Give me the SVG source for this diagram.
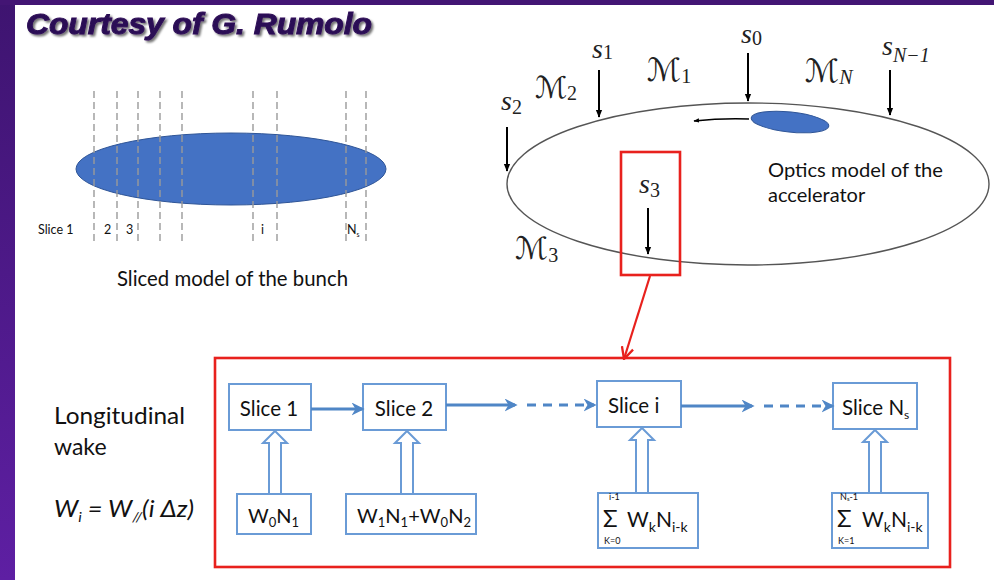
<svg xmlns="http://www.w3.org/2000/svg" width="994" height="580" viewBox="0 0 994 580">
<defs>
<linearGradient id="purp" x1="0" y1="0" x2="0" y2="1">
<stop offset="0" stop-color="#3e1470"/>
<stop offset="1" stop-color="#5e1fa3"/>
</linearGradient>
<filter id="shadow" x="-5%" y="-30%" width="110%" height="160%">
<feDropShadow dx="2" dy="2" stdDeviation="1.2" flood-color="#000" flood-opacity="0.55"/>
</filter>
<marker id="blk" viewBox="0 0 10 10" refX="9" refY="5" markerWidth="4" markerHeight="4" orient="auto">
<path d="M0,1 L10,5 L0,9 z" fill="#000"/>
</marker>
<marker id="blue" viewBox="0 0 10 10" refX="8" refY="5" markerWidth="13" markerHeight="13" orient="auto" markerUnits="userSpaceOnUse">
<path d="M0,0 L10,5 L0,10 L3,5 z" fill="#4f86c6"/>
</marker>
<marker id="red" viewBox="0 0 12 12" refX="11" refY="6" markerWidth="14" markerHeight="14" orient="auto" markerUnits="userSpaceOnUse">
<path d="M1,1 L11,6 L1,11" fill="none" stroke="#e8211d" stroke-width="2"/>
</marker>
</defs>
<style>
.lbl{font-family:Lato,"Open Sans","Liberation Sans",sans-serif;fill:#111}
.math{font-family:"Liberation Serif","DejaVu Serif",serif;fill:#222}
.cal{font-family:"DejaVu Serif","DejaVu Sans",serif;fill:#222}
.dash{stroke:#9a9a9a;stroke-width:1.4;stroke-dasharray:7,4}
.bx{fill:#fff;stroke:#6a9bd6;stroke-width:2}
.harrow{fill:#fff;stroke:#6a9bd6;stroke-width:2}
.flow{stroke:#4f86c6;stroke-width:3;fill:none}
.flowd{stroke:#4f86c6;stroke-width:3;fill:none;stroke-dasharray:9,7}
.bk{stroke:#000;stroke-width:2;fill:none}
.redb{fill:none;stroke:#e8211d;stroke-width:2.6}
</style>
<rect x="0" y="0" width="994" height="580" fill="#fff"/>
<rect x="0" y="0" width="15" height="580" fill="url(#purp)"/>
<rect x="0" y="0" width="994" height="5" fill="#431574"/>

<g id="title">
<text x="26" y="34" font-family="Liberation Sans,Arial,sans-serif" font-weight="bold" font-style="italic" font-size="30" fill="#2c0a55" stroke="#2c0a55" stroke-width="1" filter="url(#shadow)" textLength="346" lengthAdjust="spacingAndGlyphs">Courtesy of G. Rumolo</text>
</g>

<g id="bunch-slices">
<ellipse cx="231" cy="169" rx="155" ry="36" fill="#4472c4" stroke="#2f5597" stroke-width="1"/>
<line class="dash" x1="94" y1="91" x2="94" y2="245"/>
<line class="dash" x1="117" y1="91" x2="117" y2="245"/>
<line class="dash" x1="138" y1="91" x2="138" y2="245"/>
<line class="dash" x1="160" y1="91" x2="160" y2="245"/>
<line class="dash" x1="182" y1="91" x2="182" y2="245"/>
<line class="dash" x1="253" y1="91" x2="253" y2="245"/>
<line class="dash" x1="277" y1="91" x2="277" y2="245"/>
<line class="dash" x1="346" y1="91" x2="346" y2="245"/>
<line class="dash" x1="366" y1="91" x2="366" y2="245"/>
<text class="lbl" x="38" y="234" font-size="12.5">Slice 1</text>
<text class="lbl" x="104" y="234" font-size="12.5">2</text>
<text class="lbl" x="126" y="234" font-size="12.5">3</text>
<text class="lbl" x="261" y="234" font-size="12.5">i</text>
<text class="lbl" x="347" y="234" font-size="12.5">N<tspan font-size="7" dy="3">s</tspan></text>
<text class="lbl" x="117" y="286" font-size="20.5" textLength="231" lengthAdjust="spacingAndGlyphs">Sliced model of the bunch</text>
</g>

<g id="ring">
<ellipse cx="748" cy="184" rx="241" ry="81" fill="none" stroke="#555" stroke-width="1.4"/>
<ellipse cx="790" cy="122" rx="39" ry="10" fill="#4472c4" stroke="#2f5597" stroke-width="1" transform="rotate(6 790 122)"/>
<path d="M749,119 Q722,118 694,121" stroke="#000" stroke-width="1.4" fill="none" marker-end="url(#blk)"/>
<line class="bk" x1="748" y1="53" x2="748" y2="101" marker-end="url(#blk)"/>
<line class="bk" x1="599" y1="70" x2="599" y2="117" marker-end="url(#blk)"/>
<line class="bk" x1="890" y1="70" x2="890" y2="115" marker-end="url(#blk)"/>
<line class="bk" x1="507" y1="127" x2="507" y2="171" marker-end="url(#blk)"/>
<line class="bk" x1="648" y1="208" x2="648" y2="254" marker-end="url(#blk)"/>
<text class="math" x="741" y="43" font-size="28" font-style="italic">s<tspan font-size="20" font-style="normal" dy="2">0</tspan></text>
<text class="math" x="592" y="58" font-size="28" font-style="italic">s<tspan font-size="20" font-style="normal" dy="1">1</tspan></text>
<text class="math" x="882" y="55" font-size="28" font-style="italic">s<tspan font-size="20" dy="7">N−1</tspan></text>
<text class="math" x="501" y="110" font-size="28" font-style="italic">s<tspan font-size="20" font-style="normal" dy="4">2</tspan></text>
<text class="math" x="639" y="193" font-size="28" font-style="italic">s<tspan font-size="20" font-style="normal" dy="4">3</tspan></text>
<text class="cal" x="647" y="81" font-size="32" font-style="italic">ℳ<tspan font-size="20" font-style="normal" dy="2" font-family="Liberation Serif,serif">1</tspan></text>
<text class="cal" x="535" y="98" font-size="30" font-style="italic">ℳ<tspan font-size="20" font-style="normal" dy="2" font-family="Liberation Serif,serif">2</tspan></text>
<text class="cal" x="805" y="82" font-size="32" font-style="italic">ℳ<tspan font-size="20" dy="2" font-family="Liberation Serif,serif" font-style="italic">N</tspan></text>
<text class="cal" x="515" y="259" font-size="31" font-style="italic">ℳ<tspan font-size="20" font-style="normal" dy="3" font-family="Liberation Serif,serif">3</tspan></text>
<text class="lbl" x="768" y="177" font-size="20" textLength="175" lengthAdjust="spacingAndGlyphs">Optics model of the</text>
<text class="lbl" x="768" y="202" font-size="20">accelerator</text>
</g>

<g id="zoom-box">
<rect class="redb" x="621" y="152" width="59" height="123"/>
</g>

<g id="wake-panel">
<rect class="redb" x="215" y="358" width="735" height="209"/>
</g>

<g id="wake-label">
<text class="lbl" x="54" y="424" font-size="23" textLength="131" lengthAdjust="spacingAndGlyphs">Longitudinal</text>
<text class="lbl" x="54" y="455" font-size="23">wake</text>
<text class="lbl" x="54" y="517" font-size="23" font-style="italic" textLength="140" lengthAdjust="spacingAndGlyphs">W<tspan font-size="14" dy="5">i</tspan><tspan dy="-5"> = W</tspan><tspan font-size="14" dy="5">//</tspan><tspan dy="-5">(i Δz)</tspan></text>
</g>

<g id="slice1">
<rect class="bx" x="229" y="384" width="82" height="46"/>
<text class="lbl" x="269" y="416" font-size="20.5" text-anchor="middle">Slice 1</text>
</g>
<g id="slice2">
<rect class="bx" x="363" y="384" width="83" height="46"/>
<text class="lbl" x="404" y="416" font-size="20.5" text-anchor="middle">Slice 2</text>
</g>
<g id="slicei">
<rect class="bx" x="597" y="381" width="84" height="46"/>
<text class="lbl" x="608" y="413" font-size="20.5">Slice i</text>
</g>
<g id="sliceNs">
<rect class="bx" x="833" y="383" width="84" height="46"/>
<text class="lbl" x="842" y="415" font-size="20.5">Slice N<tspan font-size="12" dy="4">s</tspan></text>
</g>

<g id="w1">
<rect class="bx" x="237" y="494" width="74" height="40"/>
<text class="lbl" x="248" y="523" font-size="20">W<tspan font-size="13" dy="4">0</tspan><tspan dy="-4">N</tspan><tspan font-size="13" dy="4">1</tspan></text>
</g>
<g id="w2">
<rect class="bx" x="346" y="494" width="130" height="40"/>
<text class="lbl" x="357" y="523" font-size="20" textLength="114" lengthAdjust="spacingAndGlyphs">W<tspan font-size="13" dy="4">1</tspan><tspan dy="-4">N</tspan><tspan font-size="13" dy="4">1</tspan><tspan dy="-4">+W</tspan><tspan font-size="13" dy="4">0</tspan><tspan dy="-4">N</tspan><tspan font-size="13" dy="4">2</tspan></text>
</g>
<g id="wi">
<rect class="bx" x="598" y="493" width="100" height="55"/>
<text class="lbl" x="609" y="500" font-size="9">i-1</text>
<text class="lbl" x="603" y="527" font-size="24">Σ</text>
<text class="lbl" x="604" y="544" font-size="9">K=0</text>
<text class="lbl" x="627" y="527" font-size="21">W<tspan font-size="14" dy="5">k</tspan><tspan dy="-5">N</tspan><tspan font-size="14" dy="5">i-k</tspan></text>
</g>
<g id="wNs">
<rect class="bx" x="832" y="493" width="96" height="55"/>
<text class="lbl" x="840" y="500" font-size="9">N<tspan font-size="6" dy="1">s</tspan><tspan dy="-1">-1</tspan></text>
<text class="lbl" x="837" y="527" font-size="24">Σ</text>
<text class="lbl" x="838" y="544" font-size="9">K=1</text>
<text class="lbl" x="862" y="527" font-size="21">W<tspan font-size="14" dy="5">k</tspan><tspan dy="-5">N</tspan><tspan font-size="14" dy="5">i-k</tspan></text>
</g>

<g id="connectors">
<line x1="650" y1="276" x2="624" y2="359" stroke="#e8211d" stroke-width="2.2" marker-end="url(#red)"/>
<line class="flow" x1="311" y1="409" x2="362" y2="409" marker-end="url(#blue)"/>
<line class="flow" x1="446" y1="405" x2="515" y2="405" marker-end="url(#blue)"/>
<line class="flowd" x1="527" y1="405" x2="594" y2="405" marker-end="url(#blue)"/>
<line class="flow" x1="681" y1="406" x2="752" y2="406" marker-end="url(#blue)"/>
<line class="flowd" x1="764" y1="406" x2="832" y2="406" marker-end="url(#blue)"/>
<polygon class="harrow" points="275,431 287,443 281,443 281,494 269,494 269,443 263,443"/>
<polygon class="harrow" points="407,431 419,443 413,443 413,494 401,494 401,443 395,443"/>
<polygon class="harrow" points="642,428 654,440 648,440 648,493 636,493 636,440 630,440"/>
<polygon class="harrow" points="875,430 887,442 881,442 881,493 869,493 869,442 863,442"/>
</g>
</svg>
